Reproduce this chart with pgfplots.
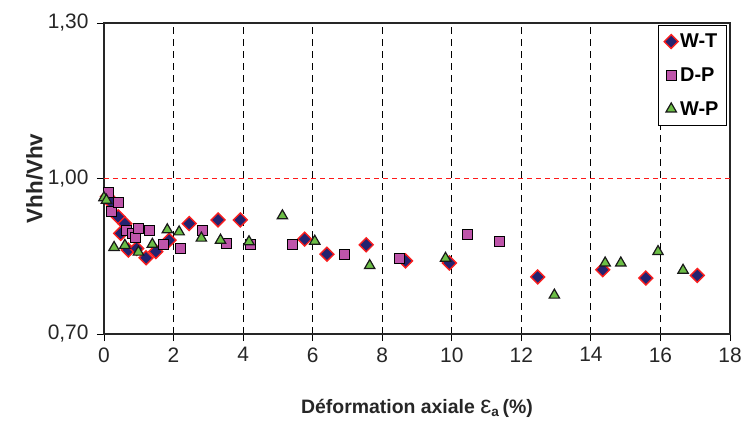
\documentclass[border=0pt]{standalone}
\usepackage{fontspec}
\setmainfont{Liberation Sans}
\usepackage{pgfplots}
\pgfplotsset{compat=1.18}

\definecolor{wtfill}{RGB}{35,35,112}
\definecolor{wtedge}{RGB}{250,30,30}
\definecolor{dpcol}{RGB}{190,85,170}
\definecolor{wpfill}{RGB}{108,190,70}

\begin{document}
\begin{tikzpicture}
\path[use as bounding box] (-104bp,-96bp) rectangle (640bp,334bp);
\begin{axis}[
    at={(0,0)}, anchor=south west,
    scale only axis,
    width=626bp, height=311bp,
    xmin=0, xmax=18, ymin=0.7, ymax=1.3,
    xtick={0,2,...,18},
    ytick={0.7,1.0,1.3},
    tick align=outside,
    xtick pos=left, ytick pos=left,
    major tick length=7bp,
    tick style={black, line width=0.8bp},
    axis line style={line width=2.5bp, black!85},
    xmajorgrids,
    major grid style={black, line width=0.8bp, dash pattern=on 7bp off 5bp},
    yticklabel style={xshift=-5bp, /pgf/number format/.cd, use comma, fixed, fixed zerofill, precision=2},
    /pgf/number format/assume math mode=true,
    ticklabel style={font=\fontsize{21}{24}\selectfont, black!85},
    xticklabel style={yshift=-3bp},
    xlabel={\textbf{Déformation axiale {\fontsize{25}{26}\selectfont\mdseries ε}\textsubscript{a}\,(\%)}},
    xlabel style={font=\fontsize{19.5}{22}\selectfont, yshift=-30bp, black!85},
    ylabel={\textbf{Vhh/Vhv}},
    ylabel style={font=\fontsize{22.5}{24}\selectfont, yshift=-2bp, black!85},
    clip=false,
    legend style={at={(0.995,0.995)}, anchor=north east, draw=black, line width=0.8bp,
        font=\fontsize{20}{23}\selectfont\bfseries, row sep=14.5bp, inner xsep=6bp, inner ysep=7bp},
    legend cell align=left,
]
\addplot[forget plot, red!90, line width=0.8bp, dash pattern=on 5bp off 4bp] coordinates {(0,1) (18,1)};

\addplot[only marks, mark=square*, mark size=4.9bp,
    mark options={rotate=45, fill=wtfill, draw=wtedge, line width=1.4bp}]
coordinates {
(0.10,0.965) (0.19,0.955) (0.41,0.926) (0.60,0.913) (0.48,0.894)
(0.70,0.862) (0.94,0.865) (1.21,0.847) (1.49,0.859) (1.87,0.881)
(2.45,0.913) (3.28,0.920) (3.92,0.920) (5.77,0.883) (6.41,0.854)
(7.54,0.872) (8.67,0.841) (9.93,0.837) (12.47,0.810) (14.34,0.824)
(15.58,0.808) (17.06,0.813)
};
\addlegendentry{W-T}

\addplot[only marks, mark=square*, mark size=5bp,
    mark options={fill=dpcol, draw=none}]
coordinates {
(0.12,0.974) (0.22,0.937) (0.41,0.955) (0.63,0.901) (0.80,0.894)
(0.89,0.886) (0.98,0.904) (1.30,0.901) (1.70,0.873) (2.18,0.865)
(2.83,0.901) (3.52,0.875) (4.19,0.873) (5.42,0.873) (6.92,0.853)
(8.48,0.846) (10.43,0.893) (11.37,0.880)
};
\addlegendentry{D-P}

\addplot[only marks, mark=triangle*, mark size=6bp,
    mark options={fill=wpfill, draw=black!90, line width=1.2bp}]
coordinates {
(0.00,0.963) (0.07,0.958) (0.29,0.867) (0.60,0.871) (0.99,0.858)
(1.39,0.873) (1.82,0.901) (2.16,0.897) (2.80,0.885) (3.35,0.881)
(4.17,0.878) (5.13,0.928) (6.06,0.879) (7.64,0.832) (9.82,0.846)
(12.95,0.775) (14.41,0.837) (14.86,0.837) (15.93,0.859) (16.65,0.823)
};
\addlegendentry{W-P}
\end{axis}
\end{tikzpicture}
\end{document}
